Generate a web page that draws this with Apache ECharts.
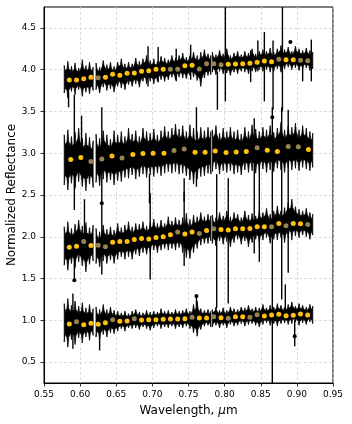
<!DOCTYPE html>
<html>
<head>
<meta charset="utf-8">
<script src="https://cdn.jsdelivr.net/npm/echarts@6/dist/echarts.min.js"></script>
<style>
  html, body { margin: 0; padding: 0; background: #fff; }
  #main { width: 352px; height: 424px; }
</style>
</head>
<body>
<div id="main"></div>
<script>
// wavelength grid (um) of the black noise envelope, three detector segments
const wl = [
  0.578, 0.583, 0.588, 0.593, 0.598, 0.603, 0.608, 0.613, 0.618,
  0.622, 0.627, 0.632, 0.637, 0.642, 0.647, 0.652, 0.657, 0.662, 0.667, 0.672, 0.677, 0.682, 0.687, 0.692, 0.697,
  0.702, 0.707, 0.712, 0.717, 0.722, 0.727, 0.732, 0.737, 0.742, 0.747, 0.752, 0.757, 0.762, 0.767, 0.772, 0.777, 0.781,
  0.783, 0.788, 0.793, 0.798, 0.803, 0.808, 0.813, 0.818, 0.823, 0.828, 0.833, 0.838, 0.843, 0.848, 0.853, 0.858,
  0.863, 0.868, 0.873, 0.878, 0.883, 0.888, 0.893, 0.898, 0.903, 0.908, 0.913, 0.918, 0.922
];
const segBreaks = [0, 9, 42, 71];

// upper / lower edge of the black band, one pair per spectrum
const hi4 = [4.05, 4.10, 4.04, 4.08, 4.02, 4.12, 4.05, 4.09, 4.03,
  4.08, 4.03, 4.11, 4.06, 4.09, 4.04, 4.09, 4.13, 4.07, 4.09, 4.07, 4.14, 4.10, 4.13, 4.17, 4.11, 4.13, 4.10, 4.16, 4.14, 4.12, 4.17, 4.14, 4.17, 4.20, 4.15, 4.17, 4.21, 4.17, 4.21, 4.24, 4.19, 4.17,
  4.21, 4.18, 4.23, 4.19, 4.25, 4.17, 4.20, 4.22, 4.18, 4.22, 4.20, 4.25, 4.19, 4.22, 4.24, 4.22, 4.26, 4.21, 4.25, 4.29, 4.24, 4.27, 4.22, 4.28, 4.25, 4.23, 4.26, 4.23, 4.21];
const lo4 = [3.72, 3.66, 3.74, 3.70, 3.76, 3.68, 3.73, 3.71, 3.75,
  3.76, 3.72, 3.79, 3.75, 3.77, 3.73, 3.80, 3.78, 3.76, 3.82, 3.80, 3.83, 3.79, 3.86, 3.83, 3.86, 3.83, 3.86, 3.88, 3.86, 3.88, 3.91, 3.88, 3.91, 3.90, 3.89, 3.93, 3.91, 3.87, 3.80, 3.90, 3.93, 3.94,
  3.97, 3.94, 3.98, 3.95, 3.96, 3.93, 3.97, 3.95, 3.98, 3.97, 3.95, 3.98, 3.97, 4.00, 3.98, 4.00, 3.97, 3.98, 4.01, 3.97, 4.01, 4.03, 4.00, 4.02, 3.99, 4.01, 4.02, 3.99, 4.01];
const hi3 = [3.22, 3.28, 3.20, 3.25, 3.30, 3.18, 3.24, 3.19, 3.15,
  3.23, 3.18, 3.27, 3.22, 3.17, 3.27, 3.22, 3.26, 3.20, 3.30, 3.23, 3.27, 3.20, 3.30, 3.26, 3.24, 3.29, 3.22, 3.27, 3.32, 3.26, 3.30, 3.35, 3.29, 3.33, 3.26, 3.34, 3.30, 3.26, 3.31, 3.27, 3.31, 3.26,
  3.28, 3.33, 3.24, 3.30, 3.26, 3.31, 3.26, 3.28, 3.23, 3.31, 3.26, 3.34, 3.29, 3.26, 3.31, 3.28, 3.33, 3.25, 3.30, 3.37, 3.28, 3.33, 3.31, 3.36, 3.28, 3.33, 3.30, 3.26, 3.24];
const lo3 = [2.62, 2.56, 2.64, 2.58, 2.66, 2.60, 2.55, 2.63, 2.59,
  2.65, 2.61, 2.69, 2.65, 2.68, 2.62, 2.67, 2.66, 2.71, 2.70, 2.74, 2.69, 2.72, 2.75, 2.71, 2.74, 2.72, 2.76, 2.73, 2.76, 2.78, 2.76, 2.78, 2.75, 2.76, 2.73, 2.68, 2.63, 2.69, 2.72, 2.73, 2.76, 2.75,
  2.78, 2.81, 2.75, 2.79, 2.77, 2.79, 2.75, 2.77, 2.74, 2.80, 2.77, 2.79, 2.76, 2.79, 2.81, 2.77, 2.80, 2.78, 2.82, 2.80, 2.77, 2.82, 2.80, 2.82, 2.79, 2.83, 2.81, 2.79, 2.83];
const hi2 = [2.12, 2.18, 2.10, 2.15, 2.20, 2.13, 2.17, 2.11, 2.14,
  2.10, 2.06, 2.14, 2.09, 2.12, 2.08, 2.16, 2.11, 2.14, 2.18, 2.12, 2.16, 2.15, 2.18, 2.13, 2.17, 2.21, 2.16, 2.20, 2.16, 2.24, 2.19, 2.23, 2.20, 2.23, 2.28, 2.21, 2.26, 2.24, 2.29, 2.24, 2.27, 2.25,
  2.26, 2.23, 2.29, 2.25, 2.31, 2.24, 2.29, 2.27, 2.23, 2.31, 2.26, 2.28, 2.25, 2.31, 2.29, 2.34, 2.27, 2.31, 2.37, 2.31, 2.35, 2.41, 2.45, 2.36, 2.33, 2.31, 2.34, 2.29, 2.27];
const lo2 = [1.66, 1.60, 1.68, 1.63, 1.70, 1.65, 1.58, 1.67, 1.71,
  1.68, 1.64, 1.71, 1.68, 1.72, 1.68, 1.73, 1.76, 1.73, 1.76, 1.73, 1.79, 1.77, 1.81, 1.79, 1.81, 1.84, 1.81, 1.84, 1.86, 1.84, 1.86, 1.84, 1.87, 1.81, 1.75, 1.74, 1.81, 1.86, 1.90, 1.92, 1.92, 1.95,
  1.92, 1.89, 1.95, 1.91, 1.94, 1.88, 1.93, 1.97, 1.91, 1.95, 1.88, 1.93, 1.97, 1.93, 1.96, 1.99, 1.92, 1.97, 1.96, 1.99, 1.93, 1.99, 1.96, 2.01, 1.99, 2.02, 2.00, 1.97, 2.02];
const hi1 = [1.20, 1.26, 1.18, 1.23, 1.17, 1.21, 1.15, 1.19, 1.14,
  1.16, 1.13, 1.19, 1.13, 1.16, 1.12, 1.11, 1.09, 1.11, 1.08, 1.11, 1.13, 1.10, 1.09, 1.12, 1.10, 1.11, 1.10, 1.14, 1.11, 1.12, 1.10, 1.13, 1.11, 1.12, 1.14, 1.11, 1.19, 1.23, 1.14, 1.12, 1.13, 1.11,
  1.13, 1.16, 1.12, 1.15, 1.12, 1.16, 1.14, 1.13, 1.16, 1.15, 1.18, 1.14, 1.16, 1.15, 1.19, 1.15, 1.18, 1.16, 1.20, 1.18, 1.16, 1.19, 1.22, 1.17, 1.20, 1.18, 1.16, 1.19, 1.17];
const lo1 = [0.74, 0.68, 0.77, 0.71, 0.79, 0.73, 0.80, 0.76, 0.82,
  0.80, 0.77, 0.83, 0.80, 0.85, 0.84, 0.87, 0.90, 0.87, 0.91, 0.90, 0.91, 0.89, 0.92, 0.90, 0.88, 0.91, 0.93, 0.90, 0.92, 0.91, 0.93, 0.90, 0.92, 0.91, 0.93, 0.90, 0.85, 0.81, 0.89, 0.93, 0.94, 0.92,
  0.92, 0.94, 0.91, 0.94, 0.91, 0.95, 0.93, 0.94, 0.96, 0.93, 0.95, 0.96, 0.94, 0.92, 0.95, 0.97, 0.94, 0.96, 0.93, 0.96, 0.97, 0.95, 0.96, 0.98, 0.94, 0.97, 0.95, 0.98, 0.96];

// outlying error bars: [wavelength, top, bottom]
const spikes = [
  [0.584, 3.74, 3.55], [0.592, 3.70, 2.32], [0.694, 4.28, 3.80], [0.708, 4.27, 3.85], [0.733, 4.25, 3.86],
  [0.753, 4.30, 3.88], [0.790, 3.98, 3.52], [0.801, 4.75, 3.62], [0.836, 4.23, 3.85], [0.846, 4.35, 3.98],
  [0.855, 4.45, 3.62], [0.867, 4.35, 3.52], [0.880, 4.75, 3.50], [0.908, 4.20, 3.86], [0.920, 4.36, 3.86],
  [0.630, 3.55, 1.55], [0.761, 3.55, 2.60], [0.696, 2.75, 2.40], [0.744, 2.70, 2.42], [0.789, 2.75, 1.15],
  [0.805, 2.70, 1.20], [0.841, 3.42, 1.80], [0.848, 2.90, 1.70], [0.866, 3.55, 0.25], [0.879, 3.55, 1.25],
  [0.888, 3.52, 1.57], [0.602, 3.45, 2.95],
  [0.592, 1.90, 1.48], [0.697, 2.52, 1.49], [0.744, 2.54, 1.65], [0.606, 2.45, 1.90],
  [0.590, 1.32, 0.66], [0.627, 0.95, 0.64], [0.761, 1.29, 1.00], [0.897, 1.00, 0.69], [0.884, 1.43, 1.10]
];
const specks = [[0.891, 4.33], [0.866, 3.43], [0.897, 0.81], [0.592, 1.48], [0.630, 2.40], [0.761, 1.29]];

// binned reflectance (dots); greyN = indices drawn in the muted colour
const binWl = [0.585, 0.595, 0.605, 0.615, 0.625, 0.635, 0.645, 0.655, 0.665, 0.675, 0.685, 0.695,
  0.705, 0.715, 0.725, 0.735, 0.745, 0.755, 0.765, 0.775, 0.785, 0.795, 0.805, 0.815, 0.825, 0.835,
  0.845, 0.855, 0.865, 0.875, 0.885, 0.895, 0.905, 0.915];
const binWl3 = [0.587, 0.601, 0.615, 0.630, 0.644, 0.658, 0.673, 0.687, 0.701, 0.716, 0.730, 0.744,
  0.759, 0.773, 0.787, 0.802, 0.816, 0.830, 0.845, 0.859, 0.873, 0.888, 0.902, 0.916];
const bin4 = [3.876, 3.876, 3.892, 3.908, 3.904, 3.908, 3.944, 3.932, 3.956, 3.960, 3.980, 3.988,
  4.004, 4.004, 4.004, 4.004, 4.048, 4.052, 4.008, 4.072, 4.072, 4.060, 4.064, 4.068, 4.072, 4.076,
  4.088, 4.104, 4.096, 4.124, 4.120, 4.120, 4.112, 4.108];
const grey4 = [4, 14, 15, 18, 19, 20, 21, 29, 32, 33];
const bin3 = [2.924, 2.948, 2.900, 2.932, 2.968, 2.944, 2.984, 2.996, 3.000, 3.000, 3.032, 3.052,
  3.012, 3.012, 3.028, 3.008, 3.016, 3.020, 3.064, 3.036, 3.020, 3.080, 3.076, 3.044];
const grey3 = [2, 3, 5, 10, 11, 18, 21, 22];
const bin2 = [1.876, 1.888, 1.944, 1.896, 1.900, 1.880, 1.936, 1.944, 1.944, 1.968, 1.980, 1.972,
  1.992, 2.000, 2.024, 2.056, 2.032, 2.056, 2.040, 2.076, 2.096, 2.088, 2.080, 2.096, 2.096, 2.100,
  2.120, 2.120, 2.120, 2.160, 2.132, 2.160, 2.156, 2.148];
const grey2 = [2, 4, 5, 15, 18, 20, 28, 30, 33];
const bin1 = [0.956, 0.984, 0.948, 0.964, 0.952, 0.972, 1.008, 0.988, 0.992, 1.020, 1.004, 1.008,
  1.008, 1.012, 1.016, 1.016, 1.020, 1.036, 1.028, 1.028, 1.044, 1.032, 1.024, 1.044, 1.044, 1.036,
  1.068, 1.052, 1.064, 1.072, 1.056, 1.060, 1.076, 1.064];
const grey1 = [1, 6, 9, 17, 20, 22, 25, 26];

const yTicks = [0.5, 1.0, 1.5, 2.0, 2.5, 3.0, 3.5, 4.0, 4.5];

const FONT = 'DejaVu Sans';
const YELLOW = '#ffc010';
const MUTED = '#968350';

let myChart = echarts.init(document.getElementById('main'));

const bands = [[hi1, lo1], [hi2, lo2], [hi3, lo3], [hi4, lo4]];
let bandData = [];
bands.forEach((b, s) => {
  for (let k = 0; k < segBreaks.length - 1; k++) {
    bandData.push([wl[segBreaks[k]], b[0][segBreaks[k]], s, k]);
  }
});

// band outline: a narrow peak at every grid point, so the edge reads as a row of error bars
function renderBand(params, api) {
  const s = api.value(2), k = api.value(3);
  const hi = bands[s][0], lo = bands[s][1];
  const d = 0.0011;
  const first = segBreaks[k], last = segBreaks[k + 1] - 1;
  let top = [], bot = [];
  for (let j = first; j <= last; j++) {
    const mid = (hi[j] + lo[j]) / 2, half = (hi[j] - lo[j]) / 2;
    const dl = j === first ? 0 : d, dr = j === last ? 0 : d;
    top.push(api.coord([wl[j] - dl, mid + 0.6 * half]), api.coord([wl[j], hi[j]]), api.coord([wl[j] + dr, mid + 0.6 * half]));
    bot.push(api.coord([wl[j] - dl, mid - 0.6 * half]), api.coord([wl[j], lo[j]]), api.coord([wl[j] + dr, mid - 0.6 * half]));
  }
  const pts = top.concat(bot.reverse());
  return { type: 'polygon', shape: { points: pts }, style: { fill: '#000', stroke: '#000', lineWidth: 0.8, lineJoin: 'miter' } };
}

function renderSpike(params, api) {
  const a = api.coord([api.value(0), api.value(1)]);
  const b = api.coord([api.value(0), api.value(2)]);
  return { type: 'line', shape: { x1: a[0], y1: a[1], x2: b[0], y2: b[1] }, style: { stroke: '#000', lineWidth: 1.4 } };
}

function dots(xs, ys, grey) {
  return xs.map((x, i) => ({ value: [x, ys[i]], itemStyle: { color: grey.includes(i) ? MUTED : YELLOW } }));
}

const dotStyle = { opacity: 1 };

myChart.setOption({
  animation: false,
  grid: { left: 44, right: 19, top: 7, bottom: 41, outerBoundsMode: 'none', containLabel: false, show: true, borderColor: '#000', borderWidth: 1 },
  xAxis: {
    type: 'value', min: 0.55, max: 0.95, interval: 0.05,
    name: 'Wavelength, {i|μ}m', nameLocation: 'middle', nameGap: 22, nameMoveOverlap: false,
    nameTextStyle: { fontFamily: FONT, fontSize: 12, color: '#000', rich: { i: { fontFamily: FONT, fontStyle: 'italic', fontSize: 12 } } },
    axisLine: { onZero: false, lineStyle: { color: '#000', width: 1 } },
    axisTick: { length: 3.5, lineStyle: { color: '#000', width: 0.8 } },
    axisLabel: { fontFamily: FONT, fontSize: 9, color: '#000', margin: 7, formatter: v => v.toFixed(2) },
    splitLine: { show: true, lineStyle: { color: '#d4d4d4', type: [3, 2], width: 0.8 } }
  },
  yAxis: {
    type: 'value', min: 0.25, max: 4.75,
    name: 'Normalized Reflectance', nameLocation: 'middle', nameGap: 26, nameMoveOverlap: false,
    nameTextStyle: { fontFamily: FONT, fontSize: 12, color: '#000' },
    axisLine: { onZero: false, lineStyle: { color: '#000', width: 1 } },
    axisTick: { length: 3.5, customValues: yTicks, lineStyle: { color: '#000', width: 0.8 } },
    axisLabel: { fontFamily: FONT, fontSize: 9, color: '#000', margin: 8, customValues: yTicks, formatter: v => v.toFixed(1) },
    splitLine: { show: true, lineStyle: { color: '#d4d4d4', type: [3, 2], width: 0.8 } }
  },
  series: [
    { type: 'custom', renderItem: renderBand, data: bandData, encode: { x: 0, y: 1 }, z: 2, silent: true },
    { type: 'custom', renderItem: renderSpike, data: spikes, encode: { x: 0, y: [1, 2] }, z: 3, silent: true },
    { type: 'scatter', data: specks, symbolSize: 4, itemStyle: { color: '#000', opacity: 1 }, z: 3 },
    { type: 'scatter', data: dots(binWl, bin1, grey1), symbolSize: 5, itemStyle: dotStyle, z: 5 },
    { type: 'scatter', data: dots(binWl, bin2, grey2), symbolSize: 5, itemStyle: dotStyle, z: 5 },
    { type: 'scatter', data: dots(binWl3, bin3, grey3), symbolSize: 5, itemStyle: dotStyle, z: 5 },
    { type: 'scatter', data: dots(binWl, bin4, grey4), symbolSize: 5, itemStyle: dotStyle, z: 5 }
  ]
});
</script>
</body>
</html>
